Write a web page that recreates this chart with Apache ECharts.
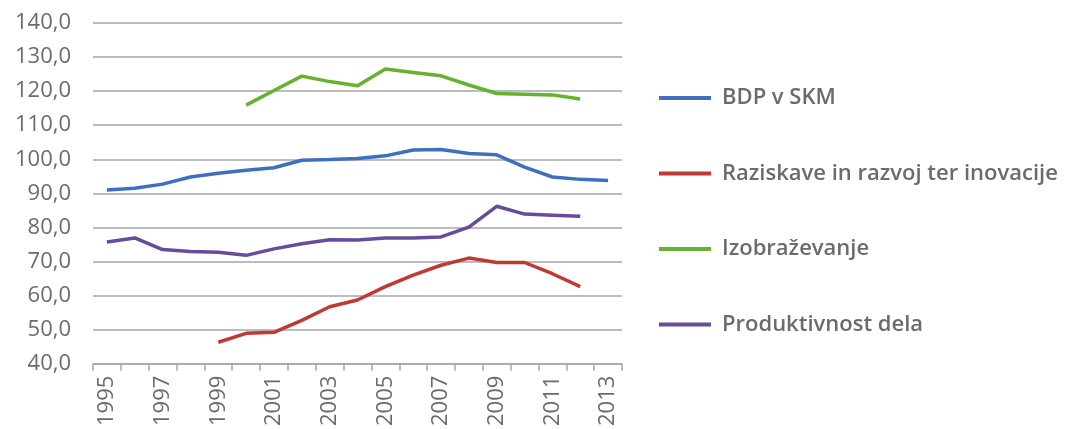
<!DOCTYPE html>
<html>
<head>
<meta charset="utf-8">
<script src="https://cdn.jsdelivr.net/npm/echarts@6/dist/echarts.min.js"></script>
<style>
  html, body { margin: 0; padding: 0; background: #fff; }
  #chart { width: 1071px; height: 429px; }
</style>
</head>
<body>
<div id="chart"></div>
<script>
// Years on the category axis
const years = ['1995','1996','1997','1998','1999','2000','2001','2002','2003','2004',
               '2005','2006','2007','2008','2009','2010','2011','2012','2013'];

// Index values per year (null where no value exists)
const bdp = [91.0, 91.5, 92.7, 94.8, 95.9, 96.8, 97.5, 99.7, 99.9, 100.2,
             101.0, 102.7, 102.9, 101.7, 101.3, 97.7, 94.8, 94.1, 93.8];
const raziskave = [null, null, null, null, 46.3, 48.9, 49.2, 52.7, 56.7, 58.7,
                   62.6, 66.0, 68.9, 71.0, 69.7, 69.7, 66.4, 62.6, null];
const izobrazevanje = [null, null, null, null, null, 115.9, 120.2, 124.4, 122.8, 121.6,
                       126.5, 125.5, 124.5, 121.8, 119.3, 119.1, 118.9, 117.7, null];
const produktivnost = [75.7, 76.9, 73.5, 72.9, 72.7, 71.8, 73.7, 75.2, 76.4, 76.3,
                       76.9, 76.9, 77.2, 80.1, 86.2, 83.9, 83.6, 83.3, null];

const seriesNames = ['BDP v SKM', 'Raziskave in razvoj ter inovacije', 'Izobraževanje', 'Produktivnost dela'];
const seriesColors = ['#3f6fbe', '#be3a32', '#64b22e', '#674c9a'];
const seriesData = [bdp, raziskave, izobrazevanje, produktivnost];

const fontFamily = '"Open Sans", "DejaVu Sans", sans-serif';
const textColor = '#6b6b6b';

const chart = echarts.init(document.getElementById('chart'), null, { renderer: 'canvas' });

chart.setOption({
  animation: false,
  backgroundColor: '#ffffff',
  grid: { left: 93, right: 449, top: 23, bottom: 63, containLabel: false },
  legend: {
    orient: 'vertical',
    left: 654,
    top: 82,
    itemWidth: 52,
    itemHeight: 4,
    itemGap: 53.5,
    icon: 'rect',
    data: seriesNames,
    textStyle: {
      color: textColor, fontSize: 22, lineHeight: 22, fontWeight: 600,
      fontFamily: fontFamily, padding: [0, 0, 0, 6]
    }
  },
  xAxis: {
    type: 'category',
    data: years,
    boundaryGap: true,
    axisLine: { show: true, lineStyle: { color: '#a6a6a6', width: 1.5 } },
    axisTick: { show: true, interval: 0, length: 7, lineStyle: { color: '#a6a6a6', width: 1.5 } },
    axisLabel: {
      interval: 1,
      rotate: 90,
      color: textColor,
      fontSize: 22,
      fontFamily: fontFamily,
      margin: 12
    }
  },
  yAxis: {
    type: 'value',
    min: 40,
    max: 140,
    interval: 10,
    axisLine: { show: false },
    axisTick: { show: false },
    splitLine: { show: true, lineStyle: { color: '#a6a6a6', width: 1.5 } },
    axisLabel: {
      color: textColor,
      fontSize: 22,
      fontFamily: fontFamily,
      margin: 22,
      formatter: v => v.toFixed(1).replace('.', ',')
    }
  },
  series: seriesData.map((d, i) => ({
    name: seriesNames[i],
    type: 'line',
    data: d,
    symbol: 'none',
    connectNulls: false,
    lineStyle: { color: seriesColors[i], width: 3.5 },
    itemStyle: { color: seriesColors[i] }
  }))
});
</script>
</body>
</html>
